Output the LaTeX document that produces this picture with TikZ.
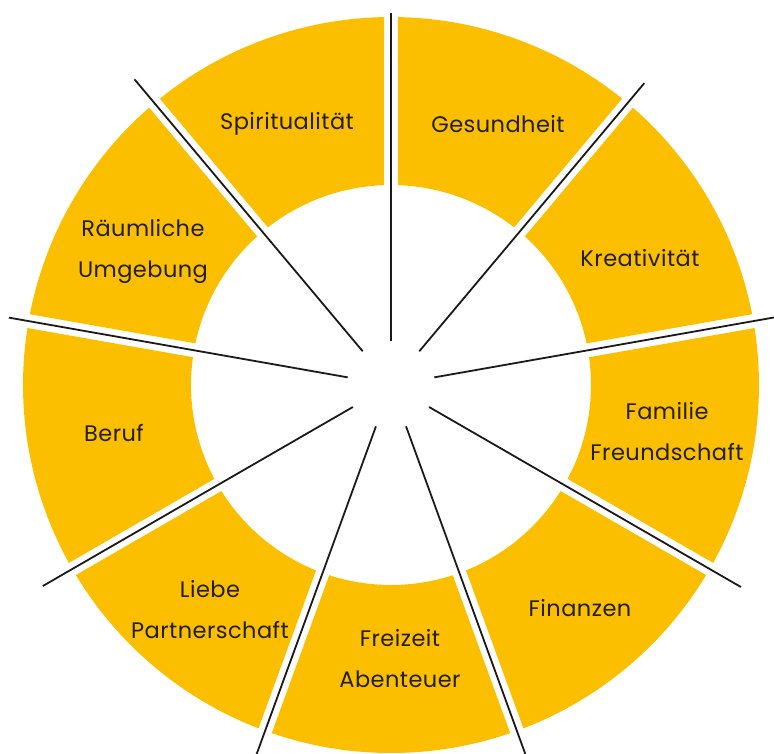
\documentclass[tikz,border=0pt]{standalone}
\usepackage{fontspec}
\newfontfamily\wheelfont[LetterSpace=2]{Poppins}
\definecolor{wheelyellow}{RGB}{252,191,0}
\definecolor{spokeblack}{RGB}{26,26,26}
\definecolor{textblack}{RGB}{35,31,32}
\tikzstyle{segment} = [fill=wheelyellow, draw=none]
\tikzstyle{spoke} = [draw=spokeblack, line width=1.8pt]
\tikzstyle{area} = [text=textblack, align=center, inner sep=0pt,
font=\wheelfont\fontsize{22.5}{41}\selectfont]
\newcommand{\wheelpart}[2]{%
\fill[segment] ({#1+1.09}:368pt) arc[start angle={#1+1.09}, end angle={#2-1.09}, radius=368pt]
 -- ({#2-2.01}:200pt) arc[start angle={#2-2.01}, end angle={#1+2.01}, radius=200pt] -- cycle;}

\begin{document}
\begin{tikzpicture}
		\useasboundingbox (-391pt,-368pt) rectangle (383pt,385pt);
		\wheelpart{90}{130}
		\wheelpart{50}{90}
		\wheelpart{10}{50}
		\wheelpart{-30}{10}
		\wheelpart{-70}{-30}
		\wheelpart{-110}{-70}
		\wheelpart{-150}{-110}
		\wheelpart{170}{210}
		\wheelpart{130}{170}

		\coordinate (s1_in) at (90:44pt);
		\coordinate (s1_out) at (90:372pt);
		\coordinate (s2_in) at (50:44pt);
		\coordinate (s2_out) at (50:394pt);
		\coordinate (s3_in) at (10:44pt);
		\coordinate (s3_out) at (10:392pt);
		\coordinate (s4_in) at (-30:44pt);
		\coordinate (s4_out) at (-30:404pt);
		\coordinate (s5_in) at (-70:44pt);
		\coordinate (s5_out) at (-70:400pt);
		\coordinate (s6_in) at (-110:44pt);
		\coordinate (s6_out) at (-110:400pt);
		\coordinate (s7_in) at (-150:44pt);
		\coordinate (s7_out) at (-150:402pt);
		\coordinate (s8_in) at (170:44pt);
		\coordinate (s8_out) at (170:388pt);
		\coordinate (s9_in) at (130:44pt);
		\coordinate (s9_out) at (130:399pt);
		\draw [spoke] (s1_in) -- (s1_out);
		\draw [spoke] (s2_in) -- (s2_out);
		\draw [spoke] (s3_in) -- (s3_out);
		\draw [spoke] (s4_in) -- (s4_out);
		\draw [spoke] (s5_in) -- (s5_out);
		\draw [spoke] (s6_in) -- (s6_out);
		\draw [spoke] (s7_in) -- (s7_out);
		\draw [spoke] (s8_in) -- (s8_out);
		\draw [spoke] (s9_in) -- (s9_out);

		\node [area] (spirit) at (-104pt,261pt) {Spiritualität};
		\node [area] (gesund) at (107pt,261pt) {Gesundheit};
		\node [area] (kreativ) at (249pt,127pt) {Kreativität};
		\node [area] (familie) at (276pt,-47pt) {Familie\\Freundschaft};
		\node [area] (finanz) at (189pt,-223pt) {Finanzen};
		\node [area] (freizeit) at (9pt,-274pt) {Freizeit\\Abenteuer};
		\node [area] (liebe) at (-181pt,-225pt) {Liebe\\Partnerschaft};
		\node [area] (beruf) at (-277pt,-48pt) {Beruf};
		\node [area] (raum) at (-248pt,134pt) {Räumliche\\Umgebung};
\end{tikzpicture}
\end{document}
